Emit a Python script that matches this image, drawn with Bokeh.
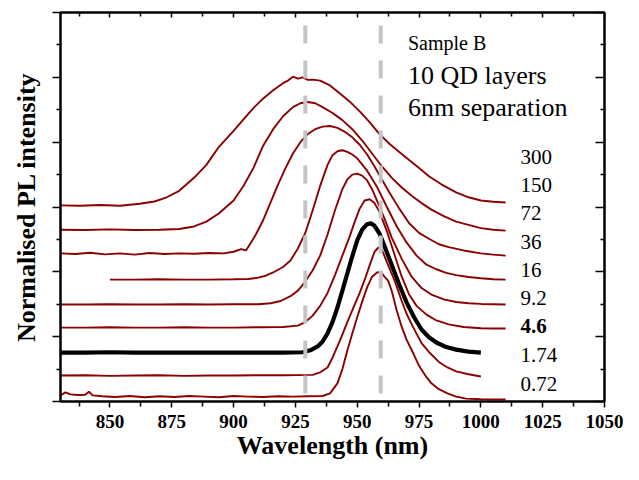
from bokeh.plotting import figure
from bokeh.models import Range1d, LinearAxis, FixedTicker, CustomJSTickFormatter, Span
from bokeh.core.properties import value
from bokeh.embed import file_html
from bokeh.resources import INLINE

# ---- data (offset, normalised spectra) ----
wl_300 = [830, 838, 846, 854, 862, 868, 873, 878, 884, 889, 894, 900, 904, 908, 912, 916, 920, 922, 924, 926, 928, 930, 932, 935, 939, 943, 947, 951, 955, 959, 963, 967, 971, 975, 979, 984, 990, 995, 1000, 1005, 1010]
pl_300 = [6.05, 6.04, 6.06, 6.04, 6.10, 6.17, 6.30, 6.50, 6.90, 7.30, 7.85, 8.35, 8.70, 9.05, 9.35, 9.60, 9.82, 9.90, 10.02, 9.96, 10.00, 9.92, 9.93, 9.90, 9.75, 9.50, 9.25, 8.95, 8.62, 8.25, 7.95, 7.70, 7.45, 7.20, 6.95, 6.70, 6.45, 6.30, 6.20, 6.16, 6.14]

wl_150 = [830, 840, 850, 860, 870, 878, 884, 889, 894, 900, 904, 908, 912, 916, 920, 924, 927, 930, 933, 936, 940, 944, 948, 952, 956, 960, 964, 968, 972, 976, 980, 985, 990, 995, 1000, 1005, 1010]
pl_150 = [5.30, 5.29, 5.31, 5.29, 5.30, 5.32, 5.40, 5.55, 5.80, 6.20, 6.65, 7.20, 7.90, 8.40, 8.80, 9.08, 9.20, 9.24, 9.20, 9.08, 8.90, 8.68, 8.40, 8.05, 7.65, 7.25, 6.90, 6.60, 6.35, 6.12, 5.92, 5.72, 5.55, 5.45, 5.35, 5.30, 5.27]

wl_72 = [830, 836, 842, 848, 854, 860, 866, 872, 878, 884, 890, 896, 900, 903, 905, 907, 909, 912, 915, 918, 921, 924, 927, 930, 933, 936, 939, 942, 945, 948, 951, 954, 957, 960, 963, 967, 971, 975, 979, 983, 987, 993, 1000, 1005, 1010]
pl_72 = [4.57, 4.55, 4.59, 4.54, 4.57, 4.53, 4.58, 4.55, 4.57, 4.56, 4.58, 4.57, 4.62, 4.70, 4.66, 4.90, 5.15, 5.60, 6.15, 6.70, 7.20, 7.65, 8.00, 8.25, 8.40, 8.48, 8.50, 8.44, 8.32, 8.15, 7.92, 7.62, 7.25, 6.85, 6.45, 5.95, 5.50, 5.20, 5.02, 4.85, 4.76, 4.66, 4.57, 4.53, 4.50]

wl_36 = [850, 860, 870, 880, 890, 900, 906, 910, 913, 916, 920, 923, 926, 929, 932, 935, 938, 940, 942, 944, 946, 948, 950, 954, 958, 962, 966, 970, 974, 978, 982, 986, 990, 995, 1000, 1005, 1010]
pl_36 = [3.76, 3.76, 3.77, 3.76, 3.76, 3.77, 3.78, 3.82, 3.88, 3.98, 4.15, 4.35, 4.72, 5.20, 5.90, 6.65, 7.30, 7.60, 7.72, 7.75, 7.70, 7.62, 7.50, 7.12, 6.62, 6.00, 5.40, 4.90, 4.50, 4.22, 4.08, 3.97, 3.90, 3.84, 3.80, 3.77, 3.76]

wl_16 = [830, 840, 850, 860, 870, 880, 890, 900, 910, 915, 919, 923, 926, 929, 932, 935, 938, 941, 944, 946, 948, 950, 952, 954, 956, 958, 961, 964, 968, 972, 976, 980, 985, 990, 995, 1000, 1005, 1010]
pl_16 = [2.99, 2.99, 3.00, 2.99, 2.99, 3.00, 2.99, 3.00, 3.00, 3.03, 3.10, 3.25, 3.42, 3.70, 4.05, 4.50, 5.15, 5.90, 6.55, 6.85, 7.00, 7.03, 6.97, 6.82, 6.55, 6.20, 5.65, 5.05, 4.40, 3.85, 3.50, 3.30, 3.15, 3.07, 3.03, 3.01, 3.00, 2.99]

wl_9p2 = [830, 840, 850, 860, 870, 880, 890, 900, 910, 920, 926, 929, 932, 935, 938, 941, 944, 947, 949, 951, 953, 955, 957, 959, 962, 965, 968, 971, 974, 978, 982, 987, 993, 1000, 1005, 1010]
pl_9p2 = [2.28, 2.28, 2.29, 2.28, 2.28, 2.29, 2.28, 2.28, 2.29, 2.30, 2.34, 2.45, 2.65, 2.95, 3.35, 3.90, 4.50, 5.10, 5.55, 5.95, 6.20, 6.24, 6.12, 5.85, 5.25, 4.55, 3.85, 3.30, 2.95, 2.68, 2.50, 2.38, 2.30, 2.26, 2.25, 2.25]

wl_4p6 = [830, 840, 850, 860, 870, 880, 890, 900, 910, 920, 928, 931, 934, 936, 938, 940, 942, 944, 946, 948, 950, 952, 954, 955.5, 957, 959, 961, 963.5, 967, 970, 973, 976, 979, 982, 986, 990, 995, 1000]
pl_4p6 = [1.51, 1.51, 1.52, 1.51, 1.51, 1.51, 1.51, 1.51, 1.51, 1.51, 1.52, 1.58, 1.70, 1.85, 2.10, 2.45, 2.90, 3.42, 3.95, 4.48, 4.97, 5.30, 5.47, 5.50, 5.42, 5.18, 4.80, 4.30, 3.60, 3.05, 2.60, 2.22, 1.98, 1.82, 1.68, 1.60, 1.54, 1.51]

wl_1p74 = [830, 840, 850, 860, 870, 880, 890, 900, 910, 920, 932, 935, 938, 940, 943, 946, 948.5, 951, 953, 955, 957, 958.6, 960, 962, 965, 968, 970, 972.7, 976, 979.6, 983, 986.5, 990, 995, 1000]
pl_1p74 = [0.80, 0.81, 0.79, 0.80, 0.81, 0.79, 0.80, 0.80, 0.81, 0.81, 0.82, 0.90, 1.05, 1.35, 1.88, 2.45, 2.90, 3.35, 3.75, 4.20, 4.62, 4.75, 4.68, 4.30, 3.75, 3.10, 2.70, 2.28, 1.80, 1.48, 1.22, 1.05, 0.93, 0.84, 0.77]

wl_0p72 = [830, 832, 834, 837, 840, 841.5, 843, 847, 852, 858, 864, 870, 876, 882, 888, 894, 900, 906, 912, 918, 924, 930, 936, 939, 942, 944, 946, 948, 950, 952, 954, 956, 958, 959.5, 961, 962.5, 964, 966, 968, 970, 972.7, 975, 978, 980, 983, 986.5, 990, 994, 1000, 1005, 1010]
pl_0p72 = [0.19, 0.28, 0.22, 0.20, 0.21, 0.30, 0.19, 0.16, 0.14, 0.17, 0.13, 0.16, 0.14, 0.17, 0.15, 0.13, 0.17, 0.15, 0.14, 0.16, 0.15, 0.16, 0.17, 0.25, 0.56, 1.00, 1.57, 2.10, 2.60, 3.08, 3.52, 3.85, 3.98, 4.00, 3.85, 3.73, 3.40, 2.80, 2.30, 1.90, 1.48, 1.10, 0.75, 0.56, 0.38, 0.25, 0.15, 0.09, 0.07, 0.06, 0.06]

series_names = ["300", "150", "72", "36", "16", "9.2", "4.6", "1.74", "0.72"]
label_y = [7.55, 6.69, 5.82, 4.93, 4.06, 3.20, 2.34, 1.44, 0.55]
highlight = "4.6"

x_ticks = [850, 875, 900, 925, 950, 975, 1000, 1025, 1050]
x_minor = [837.5, 862.5, 887.5, 912.5, 937.5, 962.5, 987.5, 1012.5, 1037.5]
y_ticks = [0, 2, 4, 6, 8, 10, 12]
y_minor = [1, 3, 5, 7, 9, 11]
ref_lines = [929, 959.5]

info_lines = ["Sample B", "10 QD layers", "6nm separation"]
info_y = [11.05, 10.06, 9.07]
info_size = ["20px", "26px", "26px"]

curves = [
    (wl_300, pl_300), (wl_150, pl_150), (wl_72, pl_72), (wl_36, pl_36),
    (wl_16, pl_16), (wl_9p2, pl_9p2), (wl_4p6, pl_4p6), (wl_1p74, pl_1p74),
    (wl_0p72, pl_0p72),
]

SERIF = "Liberation Serif"
RED = "#8b0000"

p = figure(width=623, height=464, output_backend="svg", toolbar_location=None,
           x_range=Range1d(830, 1050), y_range=Range1d(0, 12),
           min_border_left=60, min_border_right=19, min_border_top=12, min_border_bottom=63)
p.grid.visible = False
p.outline_line_color = "black"
p.outline_line_width = 2
p.background_fill_color = "white"
p.border_fill_color = "white"

# reference dashed lines
for loc in ref_lines:
    p.add_layout(Span(location=loc, dimension="height", line_color="#c4c4c4",
                      line_width=4, line_dash="18 17", line_dash_offset=22))

for name, (wl, pl) in zip(series_names, curves):
    if name == highlight:
        p.line(wl, pl, line_color="black", line_width=4.2)
    else:
        p.line(wl, pl, line_color=RED, line_width=1.9)

# labels of the series (one glyph per label)
for name, ly in zip(series_names, label_y):
    p.text(x=[1016], y=[ly], text=[name], text_font=value(SERIF),
           text_font_size="21px",
           text_font_style="bold" if name == highlight else "normal",
           text_color="black", text_baseline="alphabetic", text_align="left")

# info texts
for line, iy, isz in zip(info_lines, info_y, info_size):
    p.text(x=[970.5], y=[iy], text=[line], text_font=value(SERIF),
           text_font_size=isz, text_baseline="alphabetic", text_color="black")

blank = CustomJSTickFormatter(code="return ''")

xa = p.xaxis[0]
xa.ticker = FixedTicker(ticks=x_ticks, minor_ticks=x_minor)
xa.axis_label = "Wavelength (nm)"
ya = p.yaxis[0]
ya.ticker = FixedTicker(ticks=y_ticks, minor_ticks=y_minor)
ya.axis_label = "Normalised PL intensity"
ya.formatter = blank

top = LinearAxis(ticker=FixedTicker(ticks=x_ticks, minor_ticks=x_minor), formatter=blank)
right = LinearAxis(ticker=FixedTicker(ticks=y_ticks, minor_ticks=y_minor), formatter=blank)
p.add_layout(top, "above")
p.add_layout(right, "right")

for ax in [xa, ya, top, right]:
    ax.axis_line_width = 2
    ax.axis_line_color = "black"
    ax.major_tick_line_width = 1.5
    ax.minor_tick_line_width = 1.5
    ax.major_tick_line_color = "black"
    ax.minor_tick_line_color = "black"
    ax.major_label_text_font = SERIF
    ax.major_label_text_color = "black"
    ax.axis_label_text_font = SERIF
    ax.axis_label_text_color = "black"
    ax.axis_label_text_font_style = "bold"
    ax.major_label_text_font_style = "bold"

xa.major_tick_out = 6
xa.major_tick_in = 0
xa.minor_tick_out = 5
xa.minor_tick_in = 0
xa.major_label_text_font_size = "19px"
xa.major_label_standoff = 7
xa.axis_label_text_font_size = "26px"
xa.axis_label_standoff = 0

ya.major_tick_out = 8
ya.major_tick_in = 0
ya.minor_tick_out = 4
ya.minor_tick_in = 0
ya.major_label_standoff = 0
ya.axis_label_text_font_size = "26px"
ya.axis_label_standoff = 12

top.major_tick_out = 0
top.major_tick_in = 5
top.minor_tick_out = 0
top.minor_tick_in = 4
top.major_label_standoff = 0

right.major_tick_out = 0
right.major_tick_in = 9
right.minor_tick_out = 0
right.minor_tick_in = 4
right.major_label_standoff = 0

open("out.html", "w").write(file_html(p, INLINE))
